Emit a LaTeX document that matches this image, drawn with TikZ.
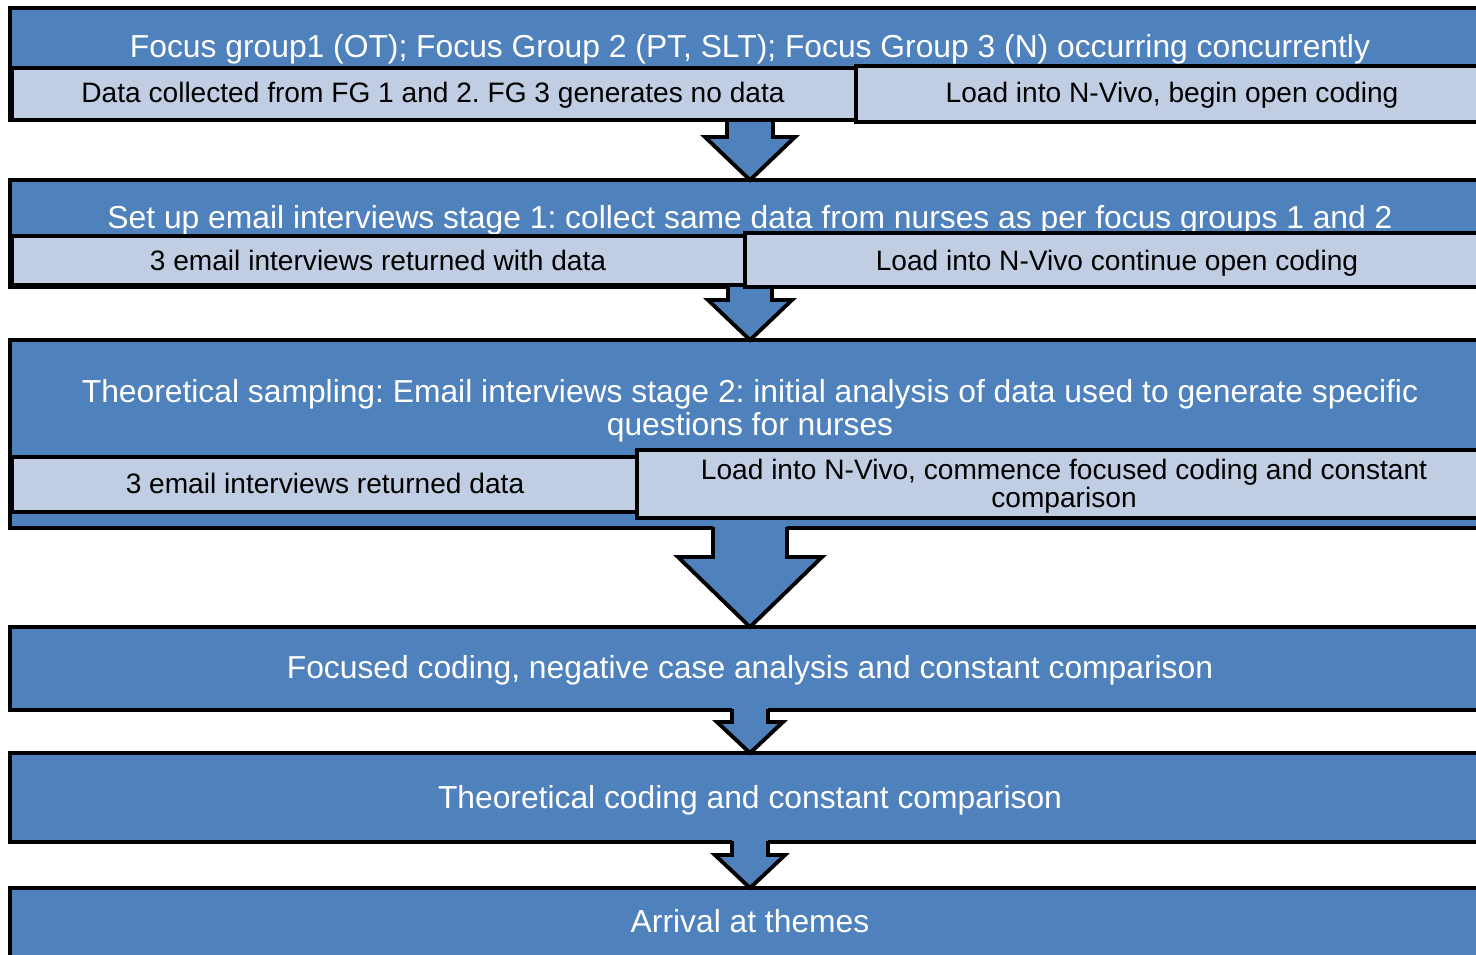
\documentclass[tikz,border=0pt]{standalone}
\usepackage{fontspec}
\setmainfont{Liberation Sans}
\frenchspacing
\usetikzlibrary{calc,fit,positioning}
\definecolor{boxblue}{RGB}{79,129,189}
\definecolor{subblue}{RGB}{193,205,226}
\tikzset{
    stagebox/.style={draw=black, fill=boxblue, line width=2.2pt, inner sep=0pt, outer sep=0pt},
    subbox/.style={draw=black, fill=subblue, line width=2.2pt, inner sep=0pt, outer sep=0pt},
    titletext/.style={text=white, inner sep=0pt, align=center, font=\fontsize{18.1}{18.7}\selectfont},
    subtext/.style={text=black, inner sep=0pt, align=center, font=\fontsize{16}{16.4}\selectfont},
    arrowfill/.style={fill=boxblue},
    arrowline/.style={draw=black, line width=2.2pt, line join=miter},
}
% block arrow: from, to, half shaft, half head, head drop
\newcommand{\stagearrow}[5]{%
    \fill[arrowfill] ($(#1.south)+(-#3,-3)$) -- ($(#1.south)+(-#3,#5)$) -- ($(#1.south)+(-#4,#5)$)
        -- (#2.north) -- ($(#1.south)+(#4,#5)$) -- ($(#1.south)+(#3,#5)$) -- ($(#1.south)+(#3,-3)$) -- cycle;
    \draw[arrowline] ($(#1.south)+(-#3,-1)$) -- ($(#1.south)+(-#3,#5)$) -- ($(#1.south)+(-#4,#5)$)
        -- (#2.north) -- ($(#1.south)+(#4,#5)$) -- ($(#1.south)+(#3,#5)$) -- ($(#1.south)+(#3,-1)$);
}

\begin{document}
\begin{tikzpicture}[x=0.02cm, y=-0.02cm]
	\useasboundingbox (0,0) rectangle (1476,954);
	\clip (0,0) rectangle (1476,954);
	\node[stagebox, fit={(10,8) (1490,120)}] (b1) {};
	\node[stagebox, fit={(10,180) (1490,287)}] (b2) {};
	\node[stagebox, fit={(10,340) (1490,528)}] (b3) {};
	\node[stagebox, fit={(10,627) (1490,710)}] (b4) {};
	\node[stagebox, fit={(10,753) (1490,842)}] (b5) {};
	\node[stagebox, fit={(10,888) (1490,976)}] (b6) {};
	\stagearrow{b1}{b2}{23}{45}{17}
	\stagearrow{b2}{b3}{22}{42}{13}
	\stagearrow{b3}{b4}{37}{72}{29}
	\stagearrow{b4}{b5}{18}{33}{12}
	\stagearrow{b5}{b6}{18}{35}{13}
	\node[titletext, anchor=base] (t1) at (750,57) {Focus group1 (OT); Focus Group 2 (PT, SLT); Focus Group 3 (N) occurring concurrently};
	\node[titletext, anchor=base] (t2) at (750,228.5) {Set up email interviews stage 1: collect same data from nurses as per focus groups 1 and 2};
	\node[titletext] (t3) at (750,410.7) {Theoretical sampling: Email interviews stage 2: initial analysis of data used to generate specific\\questions for nurses};
	\node[titletext, anchor=base] (t4) at (750,678) {Focused coding, negative case analysis and constant comparison};
	\node[titletext, anchor=base] (t5) at (750,808) {Theoretical coding and constant comparison};
	\node[titletext, anchor=base] (t6) at (750,932.5) {Arrival at themes};
	\node[subbox, fit={(12,68) (856,120)}] (l1) {};
	\node[subbox, fit={(856,66) (1490,122)}] (r1) {};
	\node[subbox, fit={(12,236) (745,285)}] (l2) {};
	\node[subbox, fit={(745,233) (1490,287)}] (r2) {};
	\node[subbox, fit={(12,457) (637,512)}] (l3) {};
	\node[subbox, fit={(637,450) (1490,518)}] (r3) {};
	\node[subtext, anchor=base] (l1t) at (433,102.5) {Data collected from FG 1 and 2. FG 3 generates no data};
	\node[subtext, anchor=base] (r1t) at (1172,102.5) {Load into N-Vivo, begin open coding};
	\node[subtext, anchor=base] (l2t) at (378,270) {3 email interviews returned with data};
	\node[subtext, anchor=base] (r2t) at (1117,270) {Load into N-Vivo continue open coding};
	\node[subtext, anchor=base] (l3t) at (325,493) {3 email interviews returned data};
	\node[subtext] (r3t) at (1064,486.2) {Load into N-Vivo, commence focused coding and constant\\comparison};
\end{tikzpicture}
\end{document}
